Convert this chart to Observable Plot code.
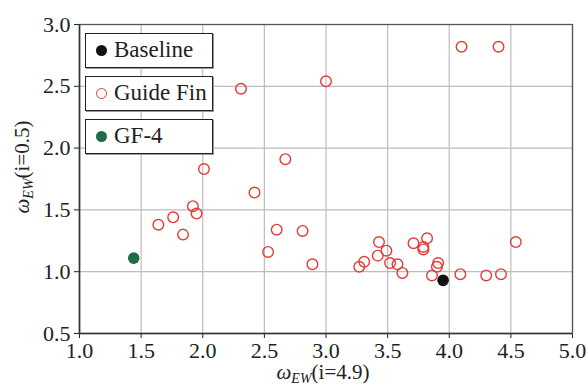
<!DOCTYPE html>
<html>
<head>
<meta charset="utf-8">
<script src="https://cdn.jsdelivr.net/npm/d3@7"></script>
<script src="https://cdn.jsdelivr.net/npm/@observablehq/plot@0.6"></script>
<style>
  html, body { margin: 0; padding: 0; background: #fff; }
  #wrap { position: relative; width: 587px; height: 385px; font-family: "Liberation Serif", "Times New Roman", Tinos, "DejaVu Serif", "Noto Serif", serif; }
  #wrap svg, #wrap svg text { font-family: "Liberation Serif", "Times New Roman", Tinos, "DejaVu Serif", "Noto Serif", serif !important; }
  .lg { position: absolute; left: 85px; width: 126px; height: 33px; border: 1.5px solid #222; background: #fff;
        box-shadow: 1px 1px 0 #999; font-size: 23px; color: #222; }
  .lg .mk { position: absolute; left: 10px; top: 11px; width: 11px; height: 11px; border-radius: 50%; box-sizing: border-box; }
  .lg .tx { position: absolute; left: 28px; top: 2px; line-height: 28px; }
</style>
</head>
<body>
<div id="wrap"></div>
<script>
// Guide Fin (red open circles)
const guideFinX = [2.01, 2.67, 2.42, 1.92, 1.95, 1.76, 1.64, 1.84, 2.60, 2.81, 2.53, 2.89,
  3.27, 3.31, 3.43, 3.42, 3.49, 3.52, 3.58, 3.62, 3.71, 3.82, 3.79, 3.79, 3.91, 3.90, 3.86,
  4.09, 4.30, 4.42, 4.54, 4.10, 4.40, 3.00, 2.31];
const guideFinY = [1.83, 1.91, 1.64, 1.53, 1.47, 1.44, 1.38, 1.30, 1.34, 1.33, 1.16, 1.06,
  1.04, 1.08, 1.24, 1.13, 1.17, 1.07, 1.06, 0.99, 1.23, 1.27, 1.20, 1.18, 1.07, 1.04, 0.97,
  0.98, 0.97, 0.98, 1.24, 2.82, 2.82, 2.54, 2.48];
// Baseline (black filled)
const baselineX = [3.95];
const baselineY = [0.93];
// GF-4 (green filled)
const gf4X = [1.44];
const gf4Y = [1.11];
const xTicks = [1.0, 1.5, 2.0, 2.5, 3.0, 3.5, 4.0, 4.5, 5.0];
const yTicks = [0.5, 1.0, 1.5, 2.0, 2.5, 3.0];
const legendLabels = ["Baseline", "Guide Fin", "GF-4"];

const guideFin = guideFinX.map((x, i) => ({x, y: guideFinY[i]}));
const baseline = baselineX.map((x, i) => ({x, y: baselineY[i]}));
const gf4 = gf4X.map((x, i) => ({x, y: gf4Y[i]}));

const chart = Plot.plot({
  width: 587, height: 385,
  marginLeft: 79, marginRight: 15, marginTop: 24, marginBottom: 52,
  style: {fontSize: "22px", color: "#222", background: "#fff"},
  x: {domain: [1, 5], ticks: xTicks, tickFormat: d3.format(".1f"), tickSize: 5, tickPadding: 4, label: null},
  y: {domain: [0.5, 3], ticks: yTicks, tickFormat: d3.format(".1f"), tickSize: 5, tickPadding: 4, label: null},
  marks: [
    Plot.gridX(xTicks, {stroke: "#bdbdbd", strokeOpacity: 1, strokeWidth: 1.2}),
    Plot.gridY(yTicks, {stroke: "#bdbdbd", strokeOpacity: 1, strokeWidth: 1.2}),
    Plot.frame({stroke: "#555", strokeWidth: 1.3}),
    Plot.ruleX([1], {stroke: "#333", strokeWidth: 1.5}),
    Plot.ruleY([0.5], {stroke: "#333", strokeWidth: 1.5}),
    Plot.dot(guideFin, {x: "x", y: "y", r: 5.3, stroke: "#e53935", strokeWidth: 1.4, fill: "none"}),
    Plot.dot(baseline, {x: "x", y: "y", r: 5.8, fill: "#111", stroke: "none"}),
    Plot.dot(gf4, {x: "x", y: "y", r: 5.8, fill: "#1f6b45", stroke: "none"})
  ]
});

document.getElementById("wrap").appendChild(chart);

// axis titles with italic ω and subscript EW
const svg = d3.select(chart);
function addLabel(g, rest) {
  const t = g.append("text")
    .attr("text-anchor", "middle")
    .attr("font-size", 21)
    .attr("fill", "#222");
  t.append("tspan").attr("font-style", "italic").attr("font-size", 21).text("ω");
  t.append("tspan").attr("font-style", "italic").attr("font-size", 14).attr("dy", 4).text("EW");
  t.append("tspan").attr("dy", -4).text(rest);
  return t;
}
addLabel(svg.append("g").attr("transform", "translate(323,379)"), "(i=4.9)");
addLabel(svg.append("g").attr("transform", "translate(29,167) rotate(-90)"), "(i=0.5)");

// legend
const legendColors = [
  {bg: "#111", border: "none"},
  {bg: "transparent", border: "1.4px solid #e53935"},
  {bg: "#1f6b45", border: "none"}
];
const tops = [33, 76, 119];
const wrap = document.getElementById("wrap");
legendLabels.forEach((lab, i) => {
  const box = document.createElement("div");
  box.className = "lg";
  box.style.top = tops[i] + "px";
  const mk = document.createElement("div");
  mk.className = "mk";
  mk.style.background = legendColors[i].bg;
  mk.style.border = legendColors[i].border;
  const tx = document.createElement("div");
  tx.className = "tx";
  tx.textContent = lab;
  box.appendChild(mk); box.appendChild(tx);
  wrap.appendChild(box);
});
</script>
</body>
</html>
